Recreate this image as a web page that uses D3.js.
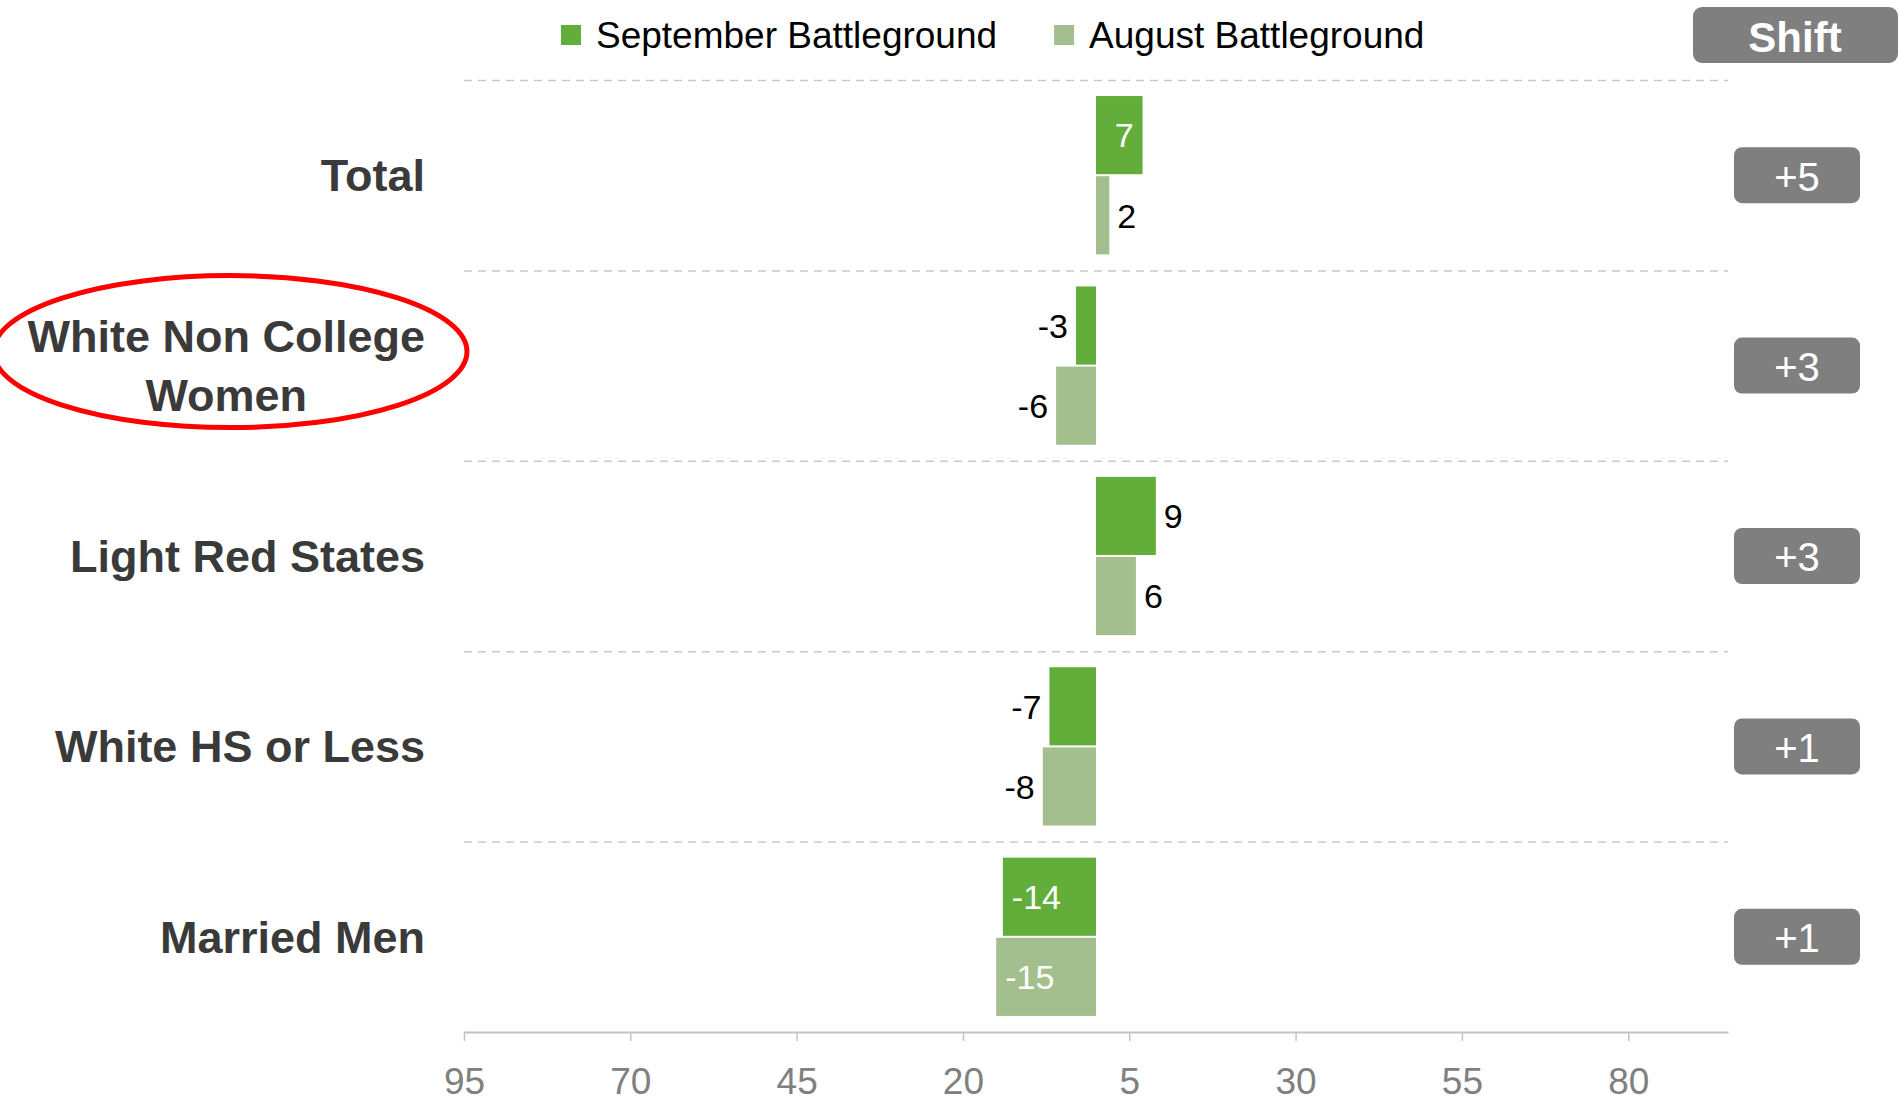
<!DOCTYPE html>
<html>
<head>
<meta charset="utf-8">
<script src="https://cdn.jsdelivr.net/npm/d3@7"></script>
<style>
  html, body { margin: 0; padding: 0; background: #fff; }
  svg { display: block; font-family: 'Liberation Sans', Arial, sans-serif; }
</style>
</head>
<body>
<div id="chart"></div>
<script>
// chart data
const categories = ['Total', 'White Non College\nWomen', 'Light Red States', 'White HS or Less', 'Married Men'];
const septValues = [7, -3, 9, -7, -14];
const augValues = [2, -6, 6, -8, -15];
const shiftLabels = ['+5', '+3', '+3', '+1', '+1'];
const seriesNames = ['September Battleground', 'August Battleground'];
const tickValues = [-95, -70, -45, -20, 5, 30, 55, 80];
// which data labels sit inside the bar end
const septInside = [true, false, false, false, true];
const augInside = [false, false, false, false, true];
const circledCategory = 1;

const width = 1899;
const height = 1102;
const margin = { top: 80, right: 171, bottom: 70, left: 464 };
const colors = { sep: '#63ae3a', aug: '#a4bf8e' };

const svg = d3.select('#chart')
    .append('svg')
    .attr('width', width)
    .attr('height', height);

const x = d3.scaleLinear()
    .domain([-95, 95])
    .range([margin.left, width - margin.right]);

const y = d3.scaleBand()
    .domain(categories)
    .range([margin.top, height - margin.bottom]);

const yInner = d3.scaleBand()
    .domain(['sep', 'aug'])
    .range([0, y.bandwidth()])
    .paddingInner(0.025)
    .paddingOuter(0.2);

// dashed row separators
svg.append('g')
    .selectAll('line')
    .data(categories)
    .join('line')
    .attr('x1', x.range()[0])
    .attr('x2', x.range()[1])
    .attr('y1', d => y(d) + 0.5)
    .attr('y2', d => y(d) + 0.5)
    .attr('stroke', '#c9c9c9')
    .attr('stroke-width', 1.5)
    .attr('stroke-dasharray', '8,6');

// x axis
const axis = svg.append('g')
    .attr('transform', `translate(0,${height - margin.bottom})`)
    .call(d3.axisBottom(x)
        .tickValues(tickValues)
        .tickFormat(d => Math.abs(d))
        .tickSize(9)
        .tickSizeOuter(0)
        .tickPadding(27));

axis.select('.domain').attr('stroke', '#c4c4c4').attr('stroke-width', 2);
axis.selectAll('.tick line').attr('stroke', '#c4c4c4').attr('stroke-width', 1.5);
axis.selectAll('.tick text')
    .attr('fill', '#808080')
    .attr('font-size', '37px')
    .attr('font-family', "'Liberation Sans', Arial, sans-serif");

// bars + labels
const rows = categories.map((c, i) => ({
    cat: c,
    bars: [
        { key: 'sep', value: septValues[i], inside: septInside[i] },
        { key: 'aug', value: augValues[i], inside: augInside[i] }
    ]
}));

rows.forEach(row => {
    const g = svg.append('g').attr('transform', `translate(0,${y(row.cat)})`);

    row.bars.forEach(b => {
        const by = yInner(b.key);
        const bh = yInner.bandwidth();
        const x0 = x(0);
        const x1 = x(b.value);

        g.append('rect')
            .attr('x', Math.min(x0, x1))
            .attr('y', by)
            .attr('width', Math.abs(x1 - x0))
            .attr('height', bh)
            .attr('fill', colors[b.key]);

        let lx, anchor, fill;
        if (b.inside) {
            lx = b.value >= 0 ? x1 - 9 : x1 + 9;
            anchor = b.value >= 0 ? 'end' : 'start';
            fill = '#fff';
        } else {
            lx = b.value >= 0 ? x1 + 8 : x1 - 8;
            anchor = b.value >= 0 ? 'start' : 'end';
            fill = '#000';
        }

        g.append('text')
            .attr('x', lx)
            .attr('y', by + bh / 2)
            .attr('dy', '0.36em')
            .attr('text-anchor', anchor)
            .attr('fill', fill)
            .attr('font-size', '34px')
            .text(b.value);
    });
});

// category labels (right aligned block, lines centered inside it)
const labelRight = 425;
const lineHeight = 59;
categories.forEach((c, i) => {
    const lines = c.split('\n');
    const t = svg.append('text')
        .attr('fill', '#3a3a3a')
        .attr('font-size', '45px')
        .attr('font-weight', 'bold')
        .attr('text-anchor', 'middle');

    const cy = y(c) + y.bandwidth() / 2;
    const spans = lines.map((ln, k) => t.append('tspan')
        .attr('y', cy + (k - (lines.length - 1) / 2) * lineHeight)
        .attr('dy', '0.35em')
        .text(ln));

    const maxW = d3.max(spans, s => s.node().getComputedTextLength());
    spans.forEach(s => s.attr('x', labelRight - maxW / 2));

    if (i === circledCategory) {
        svg.append('ellipse')
            .attr('cx', labelRight - maxW / 2 + 4)
            .attr('cy', cy - 14)
            .attr('rx', maxW / 2 + 38)
            .attr('ry', 76)
            .attr('fill', 'none')
            .attr('stroke', '#ff0000')
            .attr('stroke-width', 5);
    }
});

// shift column
const shiftX = 1797;
svg.append('rect')
    .attr('x', 1693)
    .attr('y', 7)
    .attr('width', 205)
    .attr('height', 56)
    .attr('rx', 9)
    .attr('fill', '#7f7f7f');

svg.append('text')
    .attr('x', 1795)
    .attr('y', 37)
    .attr('dy', '0.36em')
    .attr('text-anchor', 'middle')
    .attr('fill', '#fff')
    .attr('font-size', '42px')
    .attr('font-weight', 'bold')
    .text('Shift');

categories.forEach((c, i) => {
    const cy = y(c) + y.bandwidth() / 2;
    svg.append('rect')
        .attr('x', shiftX - 63)
        .attr('y', cy - 28)
        .attr('width', 126)
        .attr('height', 56)
        .attr('rx', 8)
        .attr('fill', '#7f7f7f');

    svg.append('text')
        .attr('x', shiftX)
        .attr('y', cy + 1)
        .attr('dy', '0.36em')
        .attr('text-anchor', 'middle')
        .attr('fill', '#fff')
        .attr('font-size', '40px')
        .text(shiftLabels[i]);
});

// legend
const legend = svg.append('g').attr('transform', 'translate(561,0)');
let lx = 0;
seriesNames.forEach((name, i) => {
    const key = i === 0 ? 'sep' : 'aug';
    legend.append('rect')
        .attr('x', lx)
        .attr('y', 25)
        .attr('width', 20)
        .attr('height', 20)
        .attr('fill', colors[key]);

    const t = legend.append('text')
        .attr('x', lx + 35)
        .attr('y', 35)
        .attr('dy', '0.36em')
        .attr('fill', '#000')
        .attr('font-size', '37px')
        .text(name);

    lx += 35 + t.node().getComputedTextLength() + 57;
});
</script>
</body>
</html>
